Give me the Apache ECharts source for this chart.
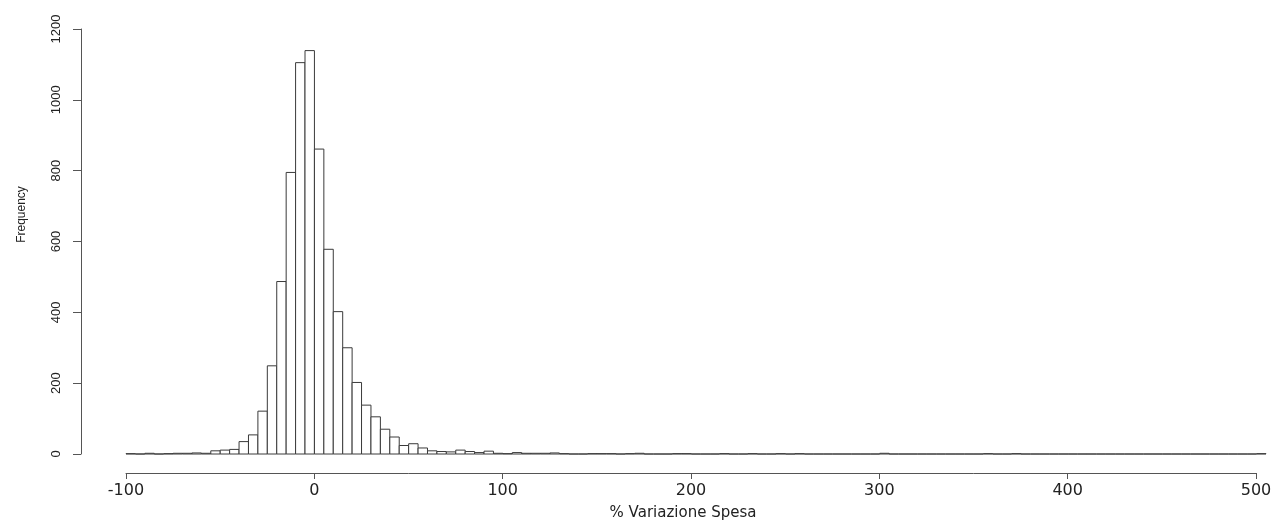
<!DOCTYPE html>
<html>
<head>
<meta charset="utf-8">
<script src="https://cdn.jsdelivr.net/npm/echarts@6/dist/echarts.min.js"></script>
<style>
html, body { margin: 0; padding: 0; background: #fff; }
#hist { width: 1275px; height: 520px; }
</style>
</head>
<body>
<div id="hist"></div>
<script>
// histogram bins: width 5, first bin starts at -100
var binStart = -100;
var binWidth = 5;
var counts = [
	1, 0, 2, 0, 1, 2, 2, 3, 2, 9,                  // -100 .. -55
	11, 13, 35, 54, 121, 249, 487, 795, 1105, 1139, // -50 .. -5
	861, 578, 402, 300, 202, 138, 105, 70, 48, 24,  // 0 .. 45
	29, 17, 9, 7, 6, 11, 7, 4, 8, 2,                // 50 .. 95
	1, 4, 2, 2, 2, 3, 1, 0, 0, 1,                   // 100 .. 145
	1, 1, 0, 1, 2, 0, 0, 0, 1, 1,                   // 150 .. 195
	0, 0, 0, 1, 0, 0, 1, 0, 0, 1,                   // 200 .. 245
	0, 1, 0, 0, 0, 0, 0, 0, 0, 0,                   // 250 .. 295
	2, 0, 0, 0, 0, 0, 0, 0, 0, 0,                   // 300 .. 345
	0, 1, 0, 0, 1, 0, 0, 0, 0, 0,                   // 350 .. 395
	0, 0, 0, 0, 0, 0, 0, 0, 0, 0,                   // 400 .. 445
	0, 0, 0, 0, 0, 0, 0, 0, 0, 0,                   // 450 .. 495
	1                                               // 500
];
var xTicks = [-100, 0, 100, 200, 300, 400, 500];
var yTicks = [0, 200, 400, 600, 800, 1000, 1200];

var myChart = echarts.init(document.getElementById('hist'));

var histData = [];
for (var i = 0; i < counts.length; i++) {
	var lo = binStart + i * binWidth;
	histData.push([lo, lo + binWidth, counts[i]]);
}

var axisColor = '#555';

var option = {
	animation: false,
	backgroundColor: '#fff',
	grid: [
		// plot area for the bars
		{ left: 126, right: 9, top: 29, bottom: 66, outerBoundsMode: 'none' },
		// only carries the visible x axis, a bit lower than the bars
		{ left: 126, right: 19, top: 29, bottom: 47, outerBoundsMode: 'none' }
	],
	xAxis: [{
		gridIndex: 0,
		type: 'value',
		min: binStart,
		max: binStart + counts.length * binWidth,
		show: false
	}, {
		gridIndex: 1,
		type: 'value',
		min: xTicks[0],
		max: xTicks[xTicks.length - 1],
		interval: 100,
		position: 'bottom',
		splitLine: { show: false },
		axisLine: { show: true, onZero: false, lineStyle: { color: axisColor, width: 1 } },
		axisTick: { show: true, length: 6, lineStyle: { color: axisColor } },
		axisLabel: {
			color: '#222',
			fontSize: 16,
			fontFamily: 'DejaVu Sans',
			margin: 10,
			showMinLabel: true,
			showMaxLabel: true,
			formatter: function (v) { return String(v); }
		},
		name: '% Variazione Spesa',
		nameLocation: 'middle',
		nameGap: 33,
		nameTextStyle: {
			color: '#222',
			fontSize: 15,
			fontFamily: 'DejaVu Sans',
			padding: [0, 16, 0, 0]
		}
	}],
	yAxis: [{
		gridIndex: 0,
		type: 'value',
		min: yTicks[0],
		max: yTicks[yTicks.length - 1],
		interval: 200,
		position: 'left',
		offset: 45,
		splitLine: { show: false },
		axisLine: { show: true, onZero: false, lineStyle: { color: axisColor, width: 1 } },
		axisTick: { show: true, length: 8, lineStyle: { color: axisColor } },
		axisLabel: {
			color: '#222',
			fontSize: 13,
			fontFamily: 'Liberation Sans',
			rotate: 90,
			margin: 18,
			formatter: function (v) { return String(v); }
		},
		name: 'Frequency',
		nameLocation: 'middle',
		nameRotate: 90,
		nameGap: 53,
		nameTextStyle: {
			color: '#222',
			fontSize: 12,
			fontFamily: 'Liberation Sans',
			padding: [0, 0, 0, 54]
		}
	}, {
		gridIndex: 1,
		type: 'value',
		min: 0,
		max: 1200,
		show: false
	}],
	series: [{
		type: 'custom',
		xAxisIndex: 0,
		yAxisIndex: 0,
		data: histData,
		encode: { x: [0, 1], y: 2 },
		renderItem: function (params, api) {
			var topLeft = api.coord([api.value(0), api.value(2)]);
			var bottomRight = api.coord([api.value(1), 0]);
			return {
				type: 'rect',
				shape: {
					x: topLeft[0],
					y: topLeft[1],
					width: bottomRight[0] - topLeft[0],
					height: bottomRight[1] - topLeft[1]
				},
				style: {
					fill: '#fff',
					stroke: '#3a3a3a',
					lineWidth: 1
				}
			};
		}
	}]
};

myChart.setOption(option);
</script>
</body>
</html>
